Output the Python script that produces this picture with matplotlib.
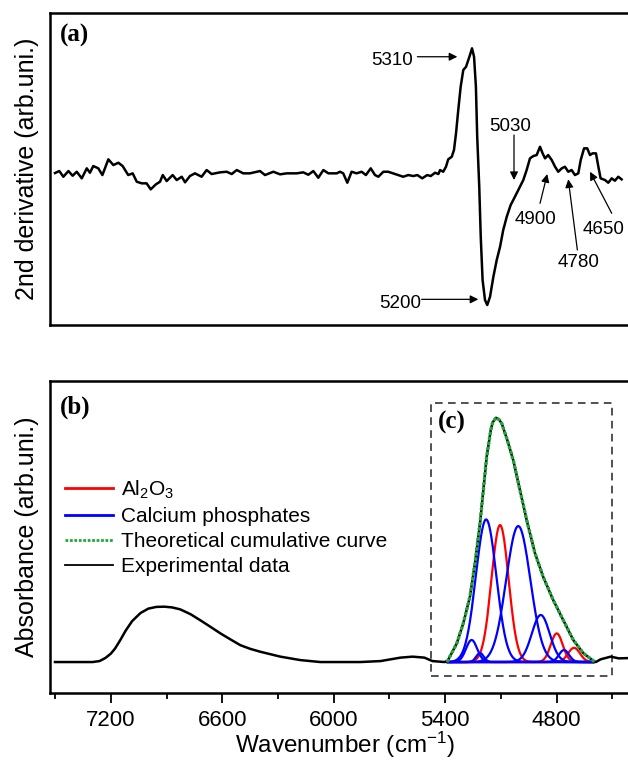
import numpy as np
import matplotlib
matplotlib.use("Agg")
import matplotlib.pyplot as plt
from matplotlib.lines import Line2D
from matplotlib.patches import Rectangle

plt.rcParams['font.family'] = ['Liberation Sans', 'DejaVu Sans']
plt.rcParams['mathtext.default'] = 'regular'

# ---------------- (a) second derivative ----------------
deriv_wn = [7500, 7477, 7455, 7428, 7405, 7383, 7356, 7329, 7312, 7294, 7267, 7245,
            7213, 7186, 7159, 7136, 7106, 7082, 7060, 7033, 7007, 6985, 6957, 6935,
            6920, 6899, 6867, 6845, 6818, 6800, 6774, 6747, 6711, 6684, 6657, 6612,
            6576, 6549, 6522, 6487, 6451, 6397, 6370, 6325, 6289, 6253, 6199, 6164,
            6137, 6110, 6083, 6056, 6029, 5984, 5966, 5949, 5927, 5904, 5877, 5850,
            5827, 5801, 5778, 5760, 5733, 5707, 5670, 5626, 5599, 5572, 5550, 5524,
            5497, 5478, 5455, 5437, 5428, 5411, 5396, 5384, 5365, 5353, 5342, 5330,
            5317, 5303, 5288, 5276, 5267, 5256, 5245, 5235, 5228, 5217, 5209, 5199,
            5186, 5174, 5159, 5141, 5123, 5105, 5088, 5069, 5048, 5025, 4998, 4980,
            4962, 4944, 4926, 4908, 4890, 4876, 4863, 4846, 4827, 4809, 4792, 4773,
            4756, 4738, 4720, 4702, 4684, 4671, 4653, 4636, 4621, 4607, 4589, 4576,
            4564, 4540, 4523, 4504, 4487, 4469, 4451]
deriv_val = [0.00, 0.02, -0.037, 0.02, -0.027, 0.013, -0.053, 0.047, 0.003, 0.07, 0.047, -0.02,
             0.137, 0.08, 0.103, 0.07, -0.02, -0.003, -0.087, -0.103, -0.103, -0.163, -0.113, -0.087,
             -0.02, -0.08, -0.02, -0.07, -0.037, -0.093, -0.03, -0.003, -0.037, 0.03, -0.01, 0.007,
             0.013, -0.01, 0.03, -0.003, -0.003, 0.02, -0.02, 0.013, -0.013, -0.003, -0.003, 0.007,
             -0.017, 0.02, -0.047, 0.03, -0.003, -0.003, 0.013, -0.003, -0.097, 0.013, -0.003, 0.013,
             -0.02, 0.047, -0.02, -0.037, 0.013, 0.013, -0.01, -0.037, -0.02, -0.03, -0.02, -0.053,
             -0.02, -0.03, 0.003, -0.01, 0.03, 0.013, 0.063, 0.137, 0.163, 0.23, 0.397, 0.63,
             0.863, 1.03, 1.063, 1.13, 1.18, 1.247, 1.163, 0.863, 0.363, -0.137, -0.637, -1.07,
             -1.27, -1.32, -1.237, -1.037, -0.87, -0.737, -0.57, -0.437, -0.32, -0.237, -0.137, -0.07,
             0.03, 0.147, 0.17, 0.18, 0.263, 0.197, 0.147, 0.18, 0.13, 0.063, 0.013, 0.047,
             0.063, 0.013, 0.03, -0.02, -0.003, 0.13, 0.247, 0.247, 0.18, 0.197, 0.197, 0.063,
             -0.053, -0.07, -0.097, -0.053, -0.077, -0.037, -0.063]

# band labels: text, text position, arrow tail, arrow head
band_labels = ['5310', '5200', '5030', '4900', '4780', '4650']
band_text_xy = [(5574, 1.13), (5530, -1.30), (5052, 0.47), (4917, -0.463), (4680, -0.897), (4546, -0.56)]
band_text_ha = ['right', 'right', 'center', 'center', 'center', 'center']
band_tail_xy = [(5550, 1.163), (5527, -1.263), (5030, 0.38), (4890, -0.303), (4689, -0.77), (4504, -0.403)]
band_head_xy = [(5335, 1.163), (5222, -1.263), (5030, -0.07), (4851, -0.01), (4738, -0.063), (4621, 0.013)]

# ---------------- (b) absorbance ----------------
exp_wn = [7500, 7298, 7260, 7228, 7200, 7177, 7150, 7120, 7085, 7040, 6998, 6955, 6912, 6870,
          6826, 6770, 6719, 6660, 6610, 6555, 6503, 6450, 6395, 6287, 6180, 6072,
          5964, 5857, 5748, 5641, 5576, 5512, 5469, 5404,
          5387, 5338, 5303, 5267, 5240, 5213, 5195, 5177, 5155, 5145, 5127, 5111,
          5096, 5066, 5034, 4998, 4962, 4917, 4873, 4819, 4765, 4711, 4657, 4603,
          4590, 4564, 4510, 4466, 4420]
exp_abs = [0.0, 0.0, 0.004, 0.017, 0.034, 0.055, 0.088, 0.128, 0.167, 0.200, 0.218, 0.225, 0.226, 0.223,
           0.215, 0.195, 0.171, 0.142, 0.117, 0.092, 0.069, 0.054, 0.042, 0.022, 0.008, 0.0,
           0.0, 0.0, 0.004, 0.018, 0.022, 0.018, 0.004, 0.0,
           0.005, 0.076, 0.158, 0.267, 0.403, 0.566, 0.702, 0.838, 0.947, 0.978, 0.997, 0.99,
           0.974, 0.906, 0.824, 0.702, 0.580, 0.444, 0.348, 0.253, 0.171, 0.090, 0.036, 0.005,
           0.0, 0.011, 0.022, 0.015, 0.016]

# theoretical cumulative curve (read over the fitted range)
fit_lo, fit_hi = 4603, 5387
theory_wn = [w for w in exp_wn if fit_lo <= w <= fit_hi]
theory_abs = [a for w, a in zip(exp_wn, exp_abs) if fit_lo <= w <= fit_hi]

# fitted bands: centre (cm-1), height, width (sigma, cm-1)
al2o3_center = [5105, 4800, 4707]
al2o3_height = [0.559, 0.117, 0.058]
al2o3_sigma = [46, 32, 32]
caph_center = [5258, 5213, 5180, 5007, 4886, 4761]
caph_height = [0.090, 0.037, 0.582, 0.555, 0.192, 0.049]
caph_sigma = [30, 20, 55, 65, 48, 27]

fig = plt.figure(figsize=(6.28, 7.63), dpi=100)
ax1 = fig.add_axes([0.0796, 0.574, 0.9395, 0.4089])
ax2 = fig.add_axes([0.0796, 0.0917, 0.9395, 0.4089])

xlim = (7527, 4352)

# panel (a)
ax1.plot(deriv_wn, deriv_val, color='black', lw=1.8)
ax1.set_xlim(*xlim)
ax1.set_ylim(-1.52, 1.60)
ax1.set_xticks([])
ax1.set_yticks([])
for s in ax1.spines.values():
    s.set_linewidth(1.8)
ax1.set_ylabel('2nd derivative (arb.uni.)', fontsize=18, labelpad=8)
ax1.text(0.016, 0.928, '(a)', transform=ax1.transAxes, fontsize=18, fontweight='bold',
         family='Liberation Serif', ha='left', va='center')
for lab, txy, ha, tail, head in zip(band_labels, band_text_xy, band_text_ha, band_tail_xy, band_head_xy):
    ax1.text(txy[0], txy[1], lab, fontsize=13.5, ha=ha, va='center')
    ax1.annotate('', xy=head, xytext=tail,
                 arrowprops=dict(arrowstyle='-|>', color='black', lw=0.9,
                                 mutation_scale=12, shrinkA=0, shrinkB=0))

# panel (b)
ax2.plot(exp_wn, exp_abs, color='black', lw=1.8, zorder=3)
grid = np.linspace(fit_lo, fit_hi, 400)
for c, h, sg in zip(al2o3_center, al2o3_height, al2o3_sigma):
    ax2.plot(grid, h * np.exp(-(grid - c) ** 2 / (2 * sg ** 2)), color='#ff0000', lw=1.6, zorder=2)
for c, h, sg in zip(caph_center, caph_height, caph_sigma):
    ax2.plot(grid, h * np.exp(-(grid - c) ** 2 / (2 * sg ** 2)), color='#0000ff', lw=1.6, zorder=2)
ax2.plot(theory_wn, theory_abs, color='#22a83a', lw=2.6, linestyle=(0, (0.1, 1.3)),
         dash_capstyle='round', zorder=4)

ax2.add_patch(Rectangle((5477, -0.057), 4503 - 5477, 1.114, fill=False,
                        ec='#222222', lw=1.1, ls=(0, (5, 3.5)), zorder=1))

ax2.set_xlim(*xlim)
ax2.set_ylim(-0.1265, 1.147)
ax2.set_xticks([7200, 6600, 6000, 5400, 4800])
ax2.set_xticks([7500, 6900, 6300, 5700, 5100, 4500], minor=True)
ax2.set_yticks([])
ax2.tick_params(axis='x', which='major', length=7, width=1.3, labelsize=16, pad=5)
ax2.tick_params(axis='x', which='minor', length=4, width=1.3)
for s in ax2.spines.values():
    s.set_linewidth(1.8)
ax2.set_ylabel('Absorbance (arb.uni.)', fontsize=18, labelpad=8)
ax2.set_xlabel('Wavenumber (cm$^{-1}$)', fontsize=17.5, labelpad=-1)
ax2.text(0.016, 0.915, '(b)', transform=ax2.transAxes, fontsize=18, fontweight='bold',
         family='Liberation Serif', ha='left', va='center')
ax2.text(5440, 0.98, '(c)', fontsize=18, fontweight='bold',
         family='Liberation Serif', ha='left', va='center')

handles = [Line2D([], [], color='#ff0000', lw=2.0),
           Line2D([], [], color='#0000ff', lw=2.0),
           Line2D([], [], color='#22a83a', lw=2.0, linestyle=(0, (1, 0.6))),
           Line2D([], [], color='black', lw=1.3)]
labels = ['Al$_2$O$_3$', 'Calcium phosphates', 'Theoretical cumulative curve', 'Experimental data']
ax2.legend(handles, labels, loc='upper left', bbox_to_anchor=(0.012, 0.715), frameon=False,
           fontsize=15, handlelength=2.3, handletextpad=0.35, labelspacing=0.3,
           borderaxespad=0)

fig.savefig('out.png', dpi=100)
